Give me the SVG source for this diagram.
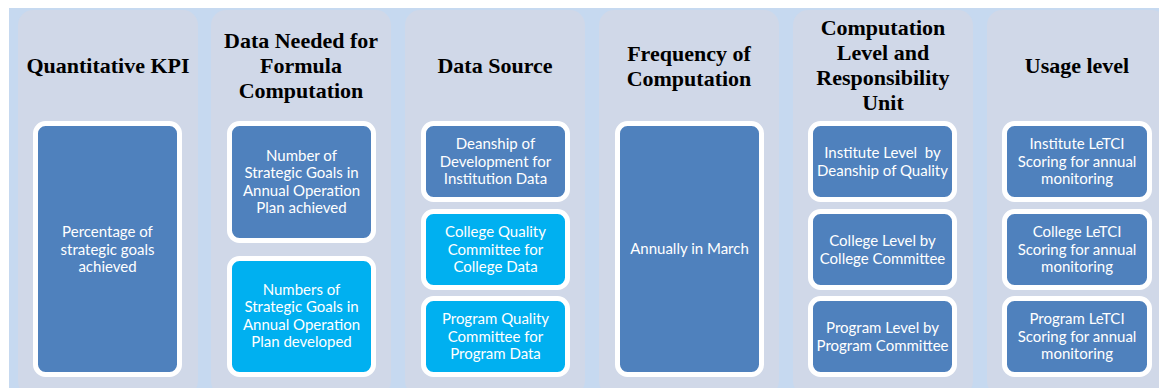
<svg xmlns="http://www.w3.org/2000/svg" width="1159" height="388" viewBox="0 0 1159 388">
<style>
.bg{fill:#c6d9f0}
.panel{fill:#d0d8e8}
.box{stroke:#ffffff;stroke-width:5}
.blue{fill:#4f81bd}
.cyan{fill:#00b0f0}
.hd{font-family:"Liberation Serif","Times New Roman",serif;font-weight:bold;font-size:22px;fill:#000;text-anchor:middle}
.tx{font-family:Lato,"Liberation Sans",sans-serif;font-size:15px;fill:#ffffff;text-anchor:middle;white-space:pre}
</style>
<rect width="1159" height="388" fill="#ffffff"/>
<rect class="bg" x="9" y="8" width="1150" height="380"/>
<g id="col1">
<rect class="panel" x="18" y="10" width="180" height="386" rx="15"/>
<text class="hd" x="108" y="73">Quantitative KPI</text>
<g id="kpi"><rect class="box blue" x="35.5" y="123.5" width="144" height="251" rx="10"/>
<text class="tx" x="107.5" y="237">Percentage of</text>
<text class="tx" x="107.5" y="254.5">strategic goals</text>
<text class="tx" x="107.5" y="272">achieved</text></g>
</g>
<g id="col2">
<rect class="panel" x="211" y="10" width="180" height="386" rx="15"/>
<text class="hd" x="301" y="48">Data Needed for</text>
<text class="hd" x="301" y="73">Formula</text>
<text class="hd" x="301" y="98">Computation</text>
<g id="data1"><rect class="box blue" x="229.5" y="123.5" width="144" height="117" rx="10"/>
<text class="tx" x="301.5" y="160.5">Number of</text>
<text class="tx" x="301.5" y="178">Strategic Goals in</text>
<text class="tx" x="301.5" y="195.5">Annual Operation</text>
<text class="tx" x="301.5" y="213">Plan achieved</text></g>
<g id="data2"><rect class="box cyan" x="229.5" y="258.5" width="144" height="116" rx="10"/>
<text class="tx" x="301.5" y="294.5">Numbers of</text>
<text class="tx" x="301.5" y="312">Strategic Goals in</text>
<text class="tx" x="301.5" y="329.5">Annual Operation</text>
<text class="tx" x="301.5" y="347">Plan developed</text></g>
</g>
<g id="col3">
<rect class="panel" x="405" y="10" width="180" height="386" rx="15"/>
<text class="hd" x="495" y="73">Data Source</text>
<g id="src1"><rect class="box blue" x="423.5" y="123.5" width="144" height="76" rx="10"/>
<text class="tx" x="495.5" y="149">Deanship of</text>
<text class="tx" x="495.5" y="166.5">Development for</text>
<text class="tx" x="495.5" y="184">Institution Data</text></g>
<g id="src2"><rect class="box cyan" x="423.5" y="211.5" width="144" height="76" rx="10"/>
<text class="tx" x="495.5" y="237">College Quality</text>
<text class="tx" x="495.5" y="254.5">Committee for</text>
<text class="tx" x="495.5" y="272">College Data</text></g>
<g id="src3"><rect class="box cyan" x="423.5" y="298.5" width="144" height="76" rx="10"/>
<text class="tx" x="495.5" y="324">Program Quality</text>
<text class="tx" x="495.5" y="341.5">Committee for</text>
<text class="tx" x="495.5" y="359">Program Data</text></g>
</g>
<g id="col4">
<rect class="panel" x="599" y="10" width="180" height="386" rx="15"/>
<text class="hd" x="689" y="61">Frequency of</text>
<text class="hd" x="689" y="86">Computation</text>
<g id="freq"><rect class="box blue" x="617.5" y="123.5" width="144" height="251" rx="10"/>
<text class="tx" x="689.5" y="253.5">Annually in March</text></g>
</g>
<g id="col5">
<rect class="panel" x="793" y="10" width="180" height="386" rx="15"/>
<text class="hd" x="883" y="35">Computation</text>
<text class="hd" x="883" y="60">Level and</text>
<text class="hd" x="883" y="85">Responsibility</text>
<text class="hd" x="883" y="110">Unit</text>
<g id="lvl1"><rect class="box blue" x="810.5" y="123.5" width="144" height="76" rx="10"/>
<text class="tx" x="882.5" y="158">Institute Level  by</text>
<text class="tx" x="882.5" y="175.5">Deanship of Quality</text></g>
<g id="lvl2"><rect class="box blue" x="810.5" y="211.5" width="144" height="76" rx="10"/>
<text class="tx" x="882.5" y="246">College Level by</text>
<text class="tx" x="882.5" y="263.5">College Committee</text></g>
<g id="lvl3"><rect class="box blue" x="810.5" y="298.5" width="144" height="76" rx="10"/>
<text class="tx" x="882.5" y="333">Program Level by</text>
<text class="tx" x="882.5" y="350.5">Program Committee</text></g>
</g>
<g id="col6">
<rect class="panel" x="987" y="10" width="180" height="386" rx="15"/>
<text class="hd" x="1077" y="73">Usage level</text>
<g id="use1"><rect class="box blue" x="1004.5" y="123.5" width="145" height="76" rx="10"/>
<text class="tx" x="1077" y="149">Institute LeTCI</text>
<text class="tx" x="1077" y="166.5">Scoring for annual</text>
<text class="tx" x="1077" y="184">monitoring</text></g>
<g id="use2"><rect class="box blue" x="1004.5" y="211.5" width="145" height="76" rx="10"/>
<text class="tx" x="1077" y="237">College LeTCI</text>
<text class="tx" x="1077" y="254.5">Scoring for annual</text>
<text class="tx" x="1077" y="272">monitoring</text></g>
<g id="use3"><rect class="box blue" x="1004.5" y="298.5" width="145" height="76" rx="10"/>
<text class="tx" x="1077" y="324">Program LeTCI</text>
<text class="tx" x="1077" y="341.5">Scoring for annual</text>
<text class="tx" x="1077" y="359">monitoring</text></g>
</g>
<g id="connectors"/>
</svg>
